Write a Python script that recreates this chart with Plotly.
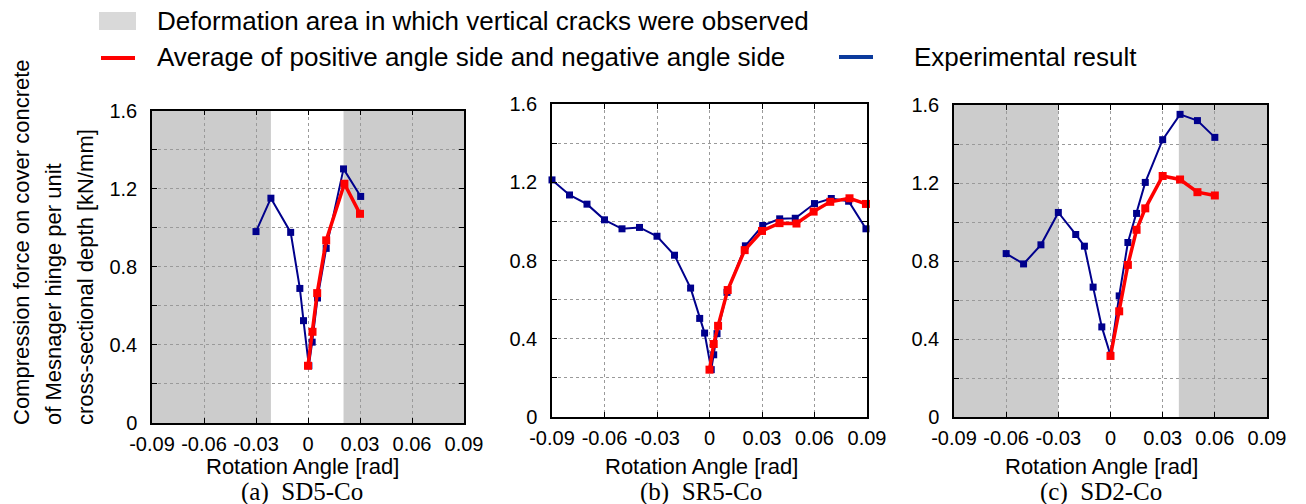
import plotly.graph_objects as go

# ---------------- data ----------------
# (a) SD5-Co
a_exp_x = [-0.0300, -0.0214, -0.0100, -0.0047, -0.0026, 0.0005, 0.0024, 0.0055, 0.0105, 0.0205, 0.0304]
a_exp_y = [0.980, 1.151, 0.976, 0.689, 0.524, 0.293, 0.414, 0.640, 0.894, 1.301, 1.160]
a_avg_x = [0.0, 0.0026, 0.0053, 0.0105, 0.0210, 0.0300]
a_avg_y = [0.293, 0.467, 0.665, 0.935, 1.225, 1.071]
a_crack = [(-0.09, -0.0214), (0.0205, 0.09)]

# (b) SR5-Co
b_exp_x = [-0.090, -0.080, -0.070, -0.060, -0.050, -0.040, -0.030, -0.020, -0.0108, -0.0056, -0.0028,
           0.0010, 0.0024, 0.0043, 0.0100, 0.0205, 0.0304, 0.0401, 0.0490, 0.0600, 0.0696, 0.0795, 0.0894]
b_exp_y = [1.212, 1.135, 1.088, 1.008, 0.962, 0.969, 0.924, 0.827, 0.659, 0.504, 0.429,
           0.242, 0.318, 0.426, 0.637, 0.875, 0.979, 1.013, 1.016, 1.091, 1.117, 1.103, 0.962]
b_avg_x = [0.0, 0.0024, 0.0049, 0.0104, 0.0201, 0.0300, 0.0400, 0.0497, 0.0595, 0.0690, 0.0800, 0.0894]
b_avg_y = [0.242, 0.373, 0.466, 0.649, 0.853, 0.951, 0.991, 0.989, 1.050, 1.100, 1.118, 1.089]
b_crack = []

# (c) SD2-Co
c_exp_x = [-0.060, -0.050, -0.040, -0.030, -0.020, -0.015, -0.010, -0.005, 0.0,
           0.005, 0.010, 0.015, 0.020, 0.030, 0.040, 0.050, 0.060]
c_exp_y = [0.838, 0.785, 0.883, 1.049, 0.936, 0.876, 0.666, 0.462, 0.317,
           0.621, 0.895, 1.044, 1.203, 1.422, 1.552, 1.520, 1.434]
c_avg_x = [0.0, 0.005, 0.010, 0.015, 0.020, 0.030, 0.040, 0.050, 0.060]
c_avg_y = [0.313, 0.542, 0.780, 0.960, 1.070, 1.236, 1.218, 1.153, 1.136]
c_crack = [(-0.09, -0.030), (0.0393, 0.09)]

x_tickvals = [-0.09, -0.06, -0.03, 0.0, 0.03, 0.06, 0.09]
x_ticktext = ["-0.09", "-0.06", "-0.03", "0", "0.03", "0.06", "0.09"]
y_tickvals = [0.0, 0.4, 0.8, 1.2, 1.6]
y_ticktext = ["0", "0.4", "0.8", "1.2", "1.6"]

panel_names = ["(a)  SD5-Co", "(b)  SR5-Co", "(c)  SD2-Co"]
legend_labels = ["Deformation area in which vertical cracks were observed",
                 "Average of positive angle side and negative angle side",
                 "Experimental result"]
x_title = "Rotation Angle [rad]"
y_title_lines = ["Compression force on cover concrete",
                 "of Mesnager hinge per unit",
                 "cross-sectional depth [kN/mm]"]

# ---------------- layout geometry (pixels) ----------------
W, H = 1306, 504
SANS = "Liberation Sans, Arial, sans-serif"
SERIF = "Liberation Serif, Times New Roman, serif"
BLUE = "#00008c"
RED = "#ff0000"
SHADE = "#cccccc"
GRID = "#9a9a9a"

# plot-area boxes: (left, right, top, bottom) in pixels
boxes = [(152, 464, 110.5, 423), (552, 867, 104, 417), (954, 1267, 105, 417)]
title_cx = [302, 701, 1101]


def px(x):
    return x / W


def py(y):
    return 1 - y / H


panels = [
    (a_exp_x, a_exp_y, a_avg_x, a_avg_y, a_crack),
    (b_exp_x, b_exp_y, b_avg_x, b_avg_y, b_crack),
    (c_exp_x, c_exp_y, c_avg_x, c_avg_y, c_crack),
]

fig = go.Figure()
shapes = []
annotations = []
layout_axes = {}

for i, (ex, ey, ax_, ay, crack) in enumerate(panels):
    n = "" if i == 0 else str(i + 1)
    xref, yref = "x" + n, "y" + n
    l, r, t, b = boxes[i]

    fig.add_trace(go.Scatter(
        x=ex, y=ey, xaxis=xref, yaxis=yref, mode="lines+markers",
        line=dict(color=BLUE, width=2),
        marker=dict(symbol="square", size=7, color=BLUE),
        cliponaxis=False, showlegend=False))
    fig.add_trace(go.Scatter(
        x=ax_, y=ay, xaxis=xref, yaxis=yref, mode="lines+markers",
        line=dict(color=RED, width=3.5),
        marker=dict(symbol="square", size=8, color=RED),
        cliponaxis=False, showlegend=False))

    for x0, x1 in crack:
        shapes.append(dict(type="rect", xref=xref, yref=yref + " domain",
                           x0=x0, x1=x1, y0=0, y1=1, fillcolor=SHADE,
                           line=dict(width=0), layer="below"))

    common = dict(showline=True, linecolor="black", linewidth=1.5, mirror="ticks",
                  ticks="inside", ticklen=5, tickcolor="black", tickwidth=1,
                  showgrid=True, gridcolor=GRID, gridwidth=1, griddash="dot",
                  zeroline=False, automargin=False)
    layout_axes["xaxis" + n] = dict(
        common, domain=[px(l), px(r)], anchor=yref, range=[-0.09, 0.09],
        tickvals=x_tickvals, ticktext=x_ticktext, tickangle=0, ticklabelstandoff=2,
        tickfont=dict(family=SANS, size=20, color="black"))
    layout_axes["yaxis" + n] = dict(
        common, domain=[py(b), py(t)], anchor=xref, range=[0, 1.6],
        tickvals=y_tickvals, ticktext=y_ticktext, ticklabelstandoff=9,
        tickfont=dict(family=SANS, size=20, color="black"))
    layout_axes["yaxis" + n]["minor"] = dict(
        dtick=0.2, tick0=0, ticks="inside", ticklen=5, tickcolor="black",
        showgrid=True, gridcolor=GRID, gridwidth=1, griddash="dot")

    annotations.append(dict(text=x_title, x=px(title_cx[i]), y=py(466), xref="paper", yref="paper",
                            xanchor="center", yanchor="middle", showarrow=False, borderpad=0,
                            font=dict(family=SANS, size=22, color="black")))
    annotations.append(dict(text=panel_names[i], x=px(title_cx[i]), y=py(492), xref="paper", yref="paper",
                            xanchor="center", yanchor="middle", showarrow=False, borderpad=0,
                            font=dict(family=SERIF, size=25, color="black")))

# y-axis title, three rotated lines starting from the same baseline
for k, (line_text, cx) in enumerate(zip(y_title_lines, [21, 53, 85])):
    annotations.append(dict(text=line_text, x=px(cx), y=py(426), xref="paper", yref="paper",
                            xanchor="center", yanchor="bottom", textangle=-90, showarrow=False,
                            borderpad=0, font=dict(family=SANS, size=22, color="black")))

# legend drawn as shapes + text
shapes.append(dict(type="rect", xref="paper", yref="paper", x0=px(99), x1=px(136),
                   y0=py(30), y1=py(12), fillcolor="#d9d9d9", line=dict(width=0)))
shapes.append(dict(type="line", xref="paper", yref="paper", x0=px(101), x1=px(135),
                   y0=py(58), y1=py(58), line=dict(color=RED, width=4)))
shapes.append(dict(type="line", xref="paper", yref="paper", x0=px(839), x1=px(873),
                   y0=py(57), y1=py(57), line=dict(color="#0b3a9c", width=4)))
for text, lx, ly in [(legend_labels[0], 156, 21), (legend_labels[1], 156, 57), (legend_labels[2], 913, 57)]:
    annotations.append(dict(text=text, x=px(lx), y=py(ly), xref="paper", yref="paper",
                            xanchor="left", yanchor="middle", showarrow=False, borderpad=0,
                            font=dict(family=SANS, size=26, color="black")))

fig.update_layout(
    width=W, height=H, margin=dict(l=0, r=0, t=0, b=0, autoexpand=False),
    paper_bgcolor="white", plot_bgcolor="white",
    shapes=shapes, annotations=annotations, showlegend=False,
    **layout_axes)

fig.write_html("out.html")
